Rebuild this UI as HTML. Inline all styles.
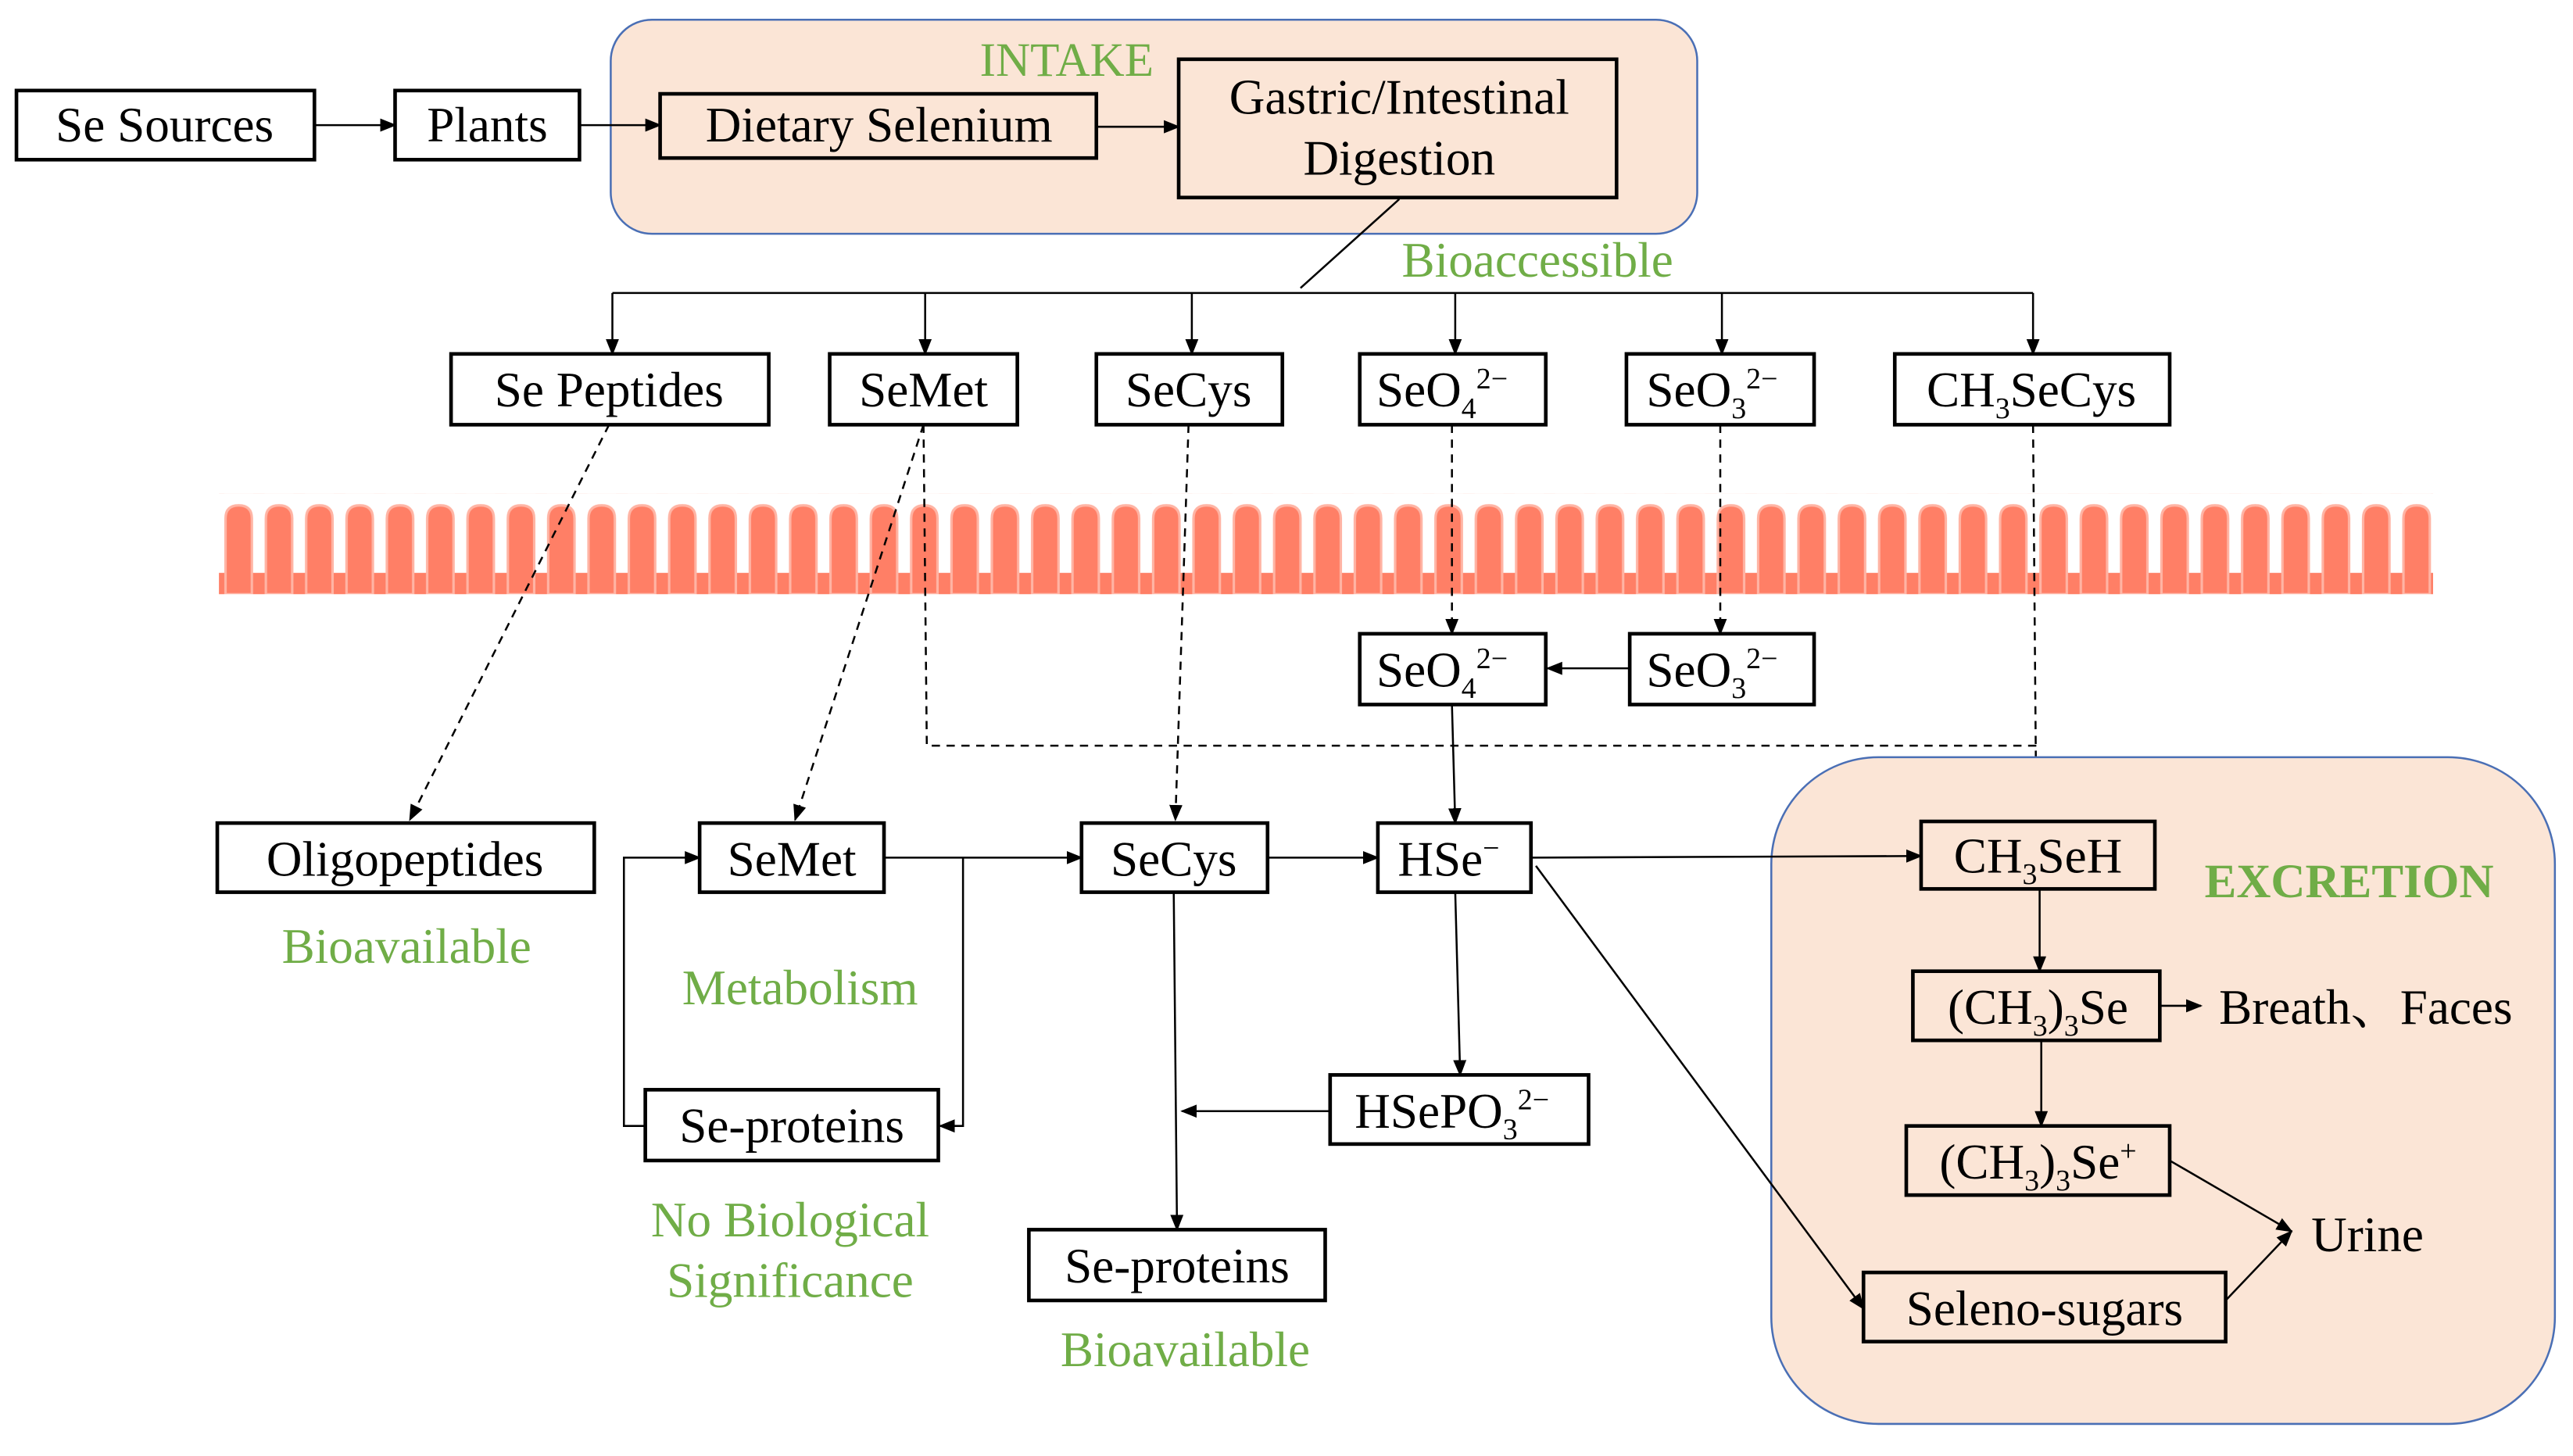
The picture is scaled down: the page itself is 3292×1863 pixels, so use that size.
<!DOCTYPE html>
<html><head><meta charset="utf-8"><style>
html,body{margin:0;padding:0;background:#fff}
svg{display:block}
text{font-family:"Liberation Serif",serif;}
.b{fill:#fff;stroke:#000;stroke-width:2.2}
.bp{fill:#fbe5d6;stroke:#000;stroke-width:2.2}
.t{font-size:30px;text-anchor:middle;fill:#000}
.g{font-size:30px;text-anchor:middle;fill:#70ad47}
.l{stroke:#000;stroke-width:1.2;fill:none}
.d{stroke:#000;stroke-width:1.2;fill:none;stroke-dasharray:5 4}
</style></head><body>
<svg width="3292" height="1863" viewBox="0 0 1563 884.5" preserveAspectRatio="none" xmlns="http://www.w3.org/2000/svg">
<defs>
<marker id="a" markerWidth="10" markerHeight="10" refX="9" refY="5" orient="auto" markerUnits="userSpaceOnUse"><path d="M0,1 L10,5 L0,9 Z" fill="#000"/></marker>
<pattern id="v" x="133" y="300" width="24.5" height="61" patternUnits="userSpaceOnUse">
<rect x="0" y="48" width="24.5" height="13" fill="#ff7f66"/>
<path d="M4,61 L4,15 Q4,7 12,7 Q20,7 20,15 L20,61 Z" fill="#ff7f66" stroke="#ffb4a4" stroke-width="1.5"/>
</pattern>
</defs>

<rect x="371" y="12" width="660" height="130" rx="25" fill="#fbe5d6" stroke="#4a6fb5" stroke-width="1.2"/>
<text x="648" y="46" class="g" style="font-size:29px">INTAKE</text>

<rect x="10" y="55" width="181" height="42" class="b"/><text x="100" y="86" class="t">Se Sources</text>
<rect x="240" y="55" width="112" height="42" class="b"/><text x="296" y="86" class="t">Plants</text>
<rect x="401" y="57" width="265" height="39" class="bp"/><text x="534" y="86" class="t">Dietary Selenium</text>
<rect x="716" y="36" width="266" height="84" class="bp"/><text x="850" y="69" class="t">Gastric/Intestinal</text><text x="850" y="106" class="t">Digestion</text>
<line x1="191" y1="76" x2="240" y2="76" class="l" marker-end="url(#a)"/>
<line x1="352" y1="76" x2="401" y2="76" class="l" marker-end="url(#a)"/>
<line x1="666" y1="77" x2="716" y2="77" class="l" marker-end="url(#a)"/>
<line x1="850" y1="121" x2="790" y2="175" class="l"/>
<text x="934" y="168" class="g">Bioaccessible</text>

<line x1="372" y1="178" x2="1235" y2="178" class="l"/>
<line x1="372" y1="178" x2="372" y2="215" class="l" marker-end="url(#a)"/>
<line x1="562" y1="178" x2="562" y2="215" class="l" marker-end="url(#a)"/>
<line x1="724" y1="178" x2="724" y2="215" class="l" marker-end="url(#a)"/>
<line x1="884" y1="178" x2="884" y2="215" class="l" marker-end="url(#a)"/>
<line x1="1046" y1="178" x2="1046" y2="215" class="l" marker-end="url(#a)"/>
<line x1="1235" y1="178" x2="1235" y2="215" class="l" marker-end="url(#a)"/>

<rect x="274" y="215" width="193" height="43" class="b"/><text x="370" y="247" class="t">Se Peptides</text>
<rect x="504" y="215" width="114" height="43" class="b"/><text x="561" y="247" class="t">SeMet</text>
<rect x="666" y="215" width="113" height="43" class="b"/><text x="722" y="247" class="t">SeCys</text>
<rect x="826" y="215" width="113" height="43" class="b"/><text x="876" y="247" class="t">SeO<tspan font-size="18" dy="7">4</tspan><tspan font-size="18" dy="-18">2−</tspan></text>
<rect x="988" y="215" width="114" height="43" class="b"/><text x="1040" y="247" class="t">SeO<tspan font-size="18" dy="7">3</tspan><tspan font-size="18" dy="-18">2−</tspan></text>
<rect x="1151" y="215" width="167" height="43" class="b"/><text x="1234" y="247" class="t">CH<tspan font-size="18" dy="7">3</tspan><tspan dy="-7">SeCys</tspan></text>

<rect x="133" y="300" width="1345" height="61" fill="url(#v)"/>

<line x1="370" y1="258" x2="249" y2="498" class="d" marker-end="url(#a)"/>
<line x1="561" y1="258" x2="483" y2="498" class="d" marker-end="url(#a)"/>
<polyline points="561,258 563,453 1237,453" class="d"/>
<line x1="1235" y1="258" x2="1237" y2="498" class="d" marker-end="url(#a)"/>
<line x1="722" y1="258" x2="714" y2="498" class="d" marker-end="url(#a)"/>
<line x1="882" y1="258" x2="882" y2="385" class="d" marker-end="url(#a)"/>
<line x1="1045" y1="258" x2="1045" y2="385" class="d" marker-end="url(#a)"/>

<rect x="826" y="385" width="113" height="43" class="b"/><text x="876" y="417" class="t">SeO<tspan font-size="18" dy="7">4</tspan><tspan font-size="18" dy="-18">2−</tspan></text>
<rect x="990" y="385" width="112" height="43" class="b"/><text x="1040" y="417" class="t">SeO<tspan font-size="18" dy="7">3</tspan><tspan font-size="18" dy="-18">2−</tspan></text>
<line x1="990" y1="406" x2="940" y2="406" class="l" marker-end="url(#a)"/>
<line x1="882" y1="428" x2="884" y2="500" class="l" marker-end="url(#a)"/>

<rect x="1076" y="460" width="476" height="405" rx="65" fill="#fbe5d6" stroke="#4a6fb5" stroke-width="1.2"/>
<text x="1427" y="545" class="g" style="font-weight:bold;font-size:29px">EXCRETION</text>

<rect x="132" y="500" width="229" height="42" class="b"/><text x="246" y="532" class="t">Oligopeptides</text>
<rect x="425" y="500" width="112" height="42" class="b"/><text x="481" y="532" class="t">SeMet</text>
<rect x="657" y="500" width="113" height="42" class="b"/><text x="713" y="532" class="t">SeCys</text>
<rect x="837" y="500" width="93" height="42" class="b"/><text x="880" y="532" class="t">HSe<tspan font-size="18" dy="-11">−</tspan></text>
<text x="247" y="585" class="g">Bioavailable</text>
<text x="486" y="610" class="g">Metabolism</text>
<text x="480" y="751" class="g">No Biological</text>
<text x="480" y="788" class="g">Significance</text>
<text x="720" y="830" class="g">Bioavailable</text>

<line x1="537" y1="521" x2="657" y2="521" class="l" marker-end="url(#a)"/>
<polyline points="585,521 585,684 571,684" class="l" marker-end="url(#a)"/>
<polyline points="392,684 379,684 379,521 425,521" class="l" marker-end="url(#a)"/>
<rect x="392" y="662" width="178" height="43" class="b"/><text x="481" y="694" class="t">Se-proteins</text>
<line x1="770" y1="521" x2="837" y2="521" class="l" marker-end="url(#a)"/>
<line x1="930" y1="521" x2="1167" y2="520" class="l" marker-end="url(#a)"/>
<line x1="933" y1="526" x2="1132" y2="795" class="l" marker-end="url(#a)"/>
<line x1="884" y1="542" x2="887" y2="653" class="l" marker-end="url(#a)"/>
<rect x="808" y="653" width="157" height="42" class="b"/><text x="882" y="685" class="t">HSePO<tspan font-size="18" dy="7">3</tspan><tspan font-size="18" dy="-18">2−</tspan></text>
<line x1="808" y1="675" x2="718" y2="675" class="l" marker-end="url(#a)"/>
<line x1="713" y1="542" x2="715" y2="747" class="l" marker-end="url(#a)"/>
<rect x="625" y="747" width="180" height="43" class="b"/><text x="715" y="779" class="t">Se-proteins</text>

<rect x="1167" y="499" width="142" height="41" class="bp"/><text x="1238" y="530" class="t">CH<tspan font-size="18" dy="7">3</tspan><tspan dy="-7">SeH</tspan></text>
<line x1="1239" y1="540" x2="1239" y2="590" class="l" marker-end="url(#a)"/>
<rect x="1162" y="590" width="150" height="42" class="bp"/><text x="1238" y="622" class="t">(CH<tspan font-size="18" dy="7">3</tspan><tspan dy="-7">)</tspan><tspan font-size="18" dy="7">3</tspan><tspan dy="-7">Se</tspan></text>
<line x1="1312" y1="611" x2="1337" y2="611" class="l" marker-end="url(#a)"/>
<text x="1348" y="622" class="t" style="text-anchor:start">Breath<tspan font-family="Noto Serif CJK SC,serif">、</tspan>Faces</text>
<line x1="1240" y1="632" x2="1240" y2="684" class="l" marker-end="url(#a)"/>
<rect x="1158" y="684" width="160" height="42" class="bp"/><text x="1238" y="716" class="t">(CH<tspan font-size="18" dy="7">3</tspan><tspan dy="-7">)</tspan><tspan font-size="18" dy="7">3</tspan><tspan dy="-7">Se</tspan><tspan font-size="18" dy="-11">+</tspan></text>
<rect x="1132" y="773" width="220" height="42" class="bp"/><text x="1242" y="805" class="t">Seleno-sugars</text>
<line x1="1318" y1="705" x2="1392" y2="748" class="l" marker-end="url(#a)"/>
<line x1="1352" y1="790" x2="1392" y2="748" class="l" marker-end="url(#a)"/>
<text x="1404" y="760" class="t" style="text-anchor:start">Urine</text>
</svg>
</body></html>
